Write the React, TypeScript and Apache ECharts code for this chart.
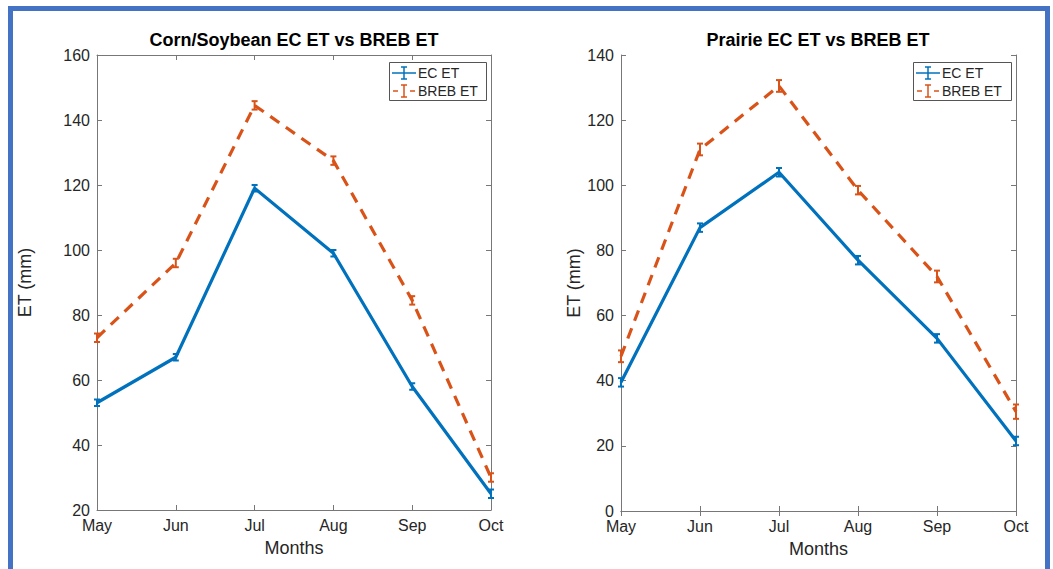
import React, { useEffect, useRef } from "react";
import * as echarts from "echarts";

const months = ["May", "Jun", "Jul", "Aug", "Sep", "Oct"];

const cornEC = [53, 67, 119, 99, 58, 25];
const cornECErr = [1.0, 1.0, 1.0, 1.0, 1.0, 1.3];
const cornBREB = [73, 96, 144.5, 127.5, 84.5, 30];
const cornBREBErr = [1.3, 1.3, 1.3, 1.3, 1.3, 1.3];

const prairieEC = [39.5, 87, 104, 77, 53, 21.5];
const prairieECErr = [1.3, 1.3, 1.3, 1.3, 1.3, 1.3];
const prairieBREB = [47.5, 111, 130.5, 98.5, 72, 30.5];
const prairieBREBErr = [1.8, 1.8, 1.8, 1.3, 1.8, 2.2];

const leftTicks = { min: 20, max: 160, interval: 20 };
const rightTicks = { min: 0, max: 140, interval: 20 };

const titles = ["Corn/Soybean EC ET vs BREB ET", "Prairie EC ET vs BREB ET"];
const legendNames = ["EC ET", "BREB ET"];

const BLUE = "#0072BD";
const ORANGE = "#D95319";
const AXIS = "#262626";
const FONT = "'Liberation Sans', Arial, Helvetica, sans-serif";

function errRender(color: string) {
  return (params: any, api: any) => {
    const x = api.value(0);
    const y = api.value(1);
    const e = api.value(2);
    const top = api.coord([x, y + e]);
    const bot = api.coord([x, y - e]);
    const cw = 3;
    const st = { stroke: color, lineWidth: 2 };
    return {
      type: "group",
      children: [
        { type: "line", shape: { x1: top[0], y1: top[1], x2: bot[0], y2: bot[1] }, style: st },
        { type: "line", shape: { x1: top[0] - cw, y1: top[1], x2: top[0] + cw, y2: top[1] }, style: st },
        { type: "line", shape: { x1: bot[0] - cw, y1: bot[1], x2: bot[0] + cw, y2: bot[1] }, style: st },
      ],
    };
  };
}

export default function App() {
  const ref = useRef<HTMLDivElement>(null);
  useEffect(() => {
    if (!ref.current) return;
    const chart = echarts.init(ref.current, undefined, { renderer: "svg" });
    const grids = [
      { left: 97, right: 562, top: 55, bottom: 59 },
      { left: 621, right: 37, top: 55, bottom: 58 },
    ];
    const ticks = [leftTicks, rightTicks];
    const yNameGaps = [63, 37];
    const xAxes: any[] = [];
    const yAxes: any[] = [];
    [0, 1].forEach((g) => {
      xAxes.push({
        type: "category",
        data: months,
        gridIndex: g,
        boundaryGap: false,
        position: "bottom",
        name: "Months",
        nameLocation: "middle",
        nameGap: 29,
        nameTextStyle: { fontSize: 18, color: AXIS, fontFamily: FONT },
        axisLine: { lineStyle: { color: "#777", width: 1 } },
        axisTick: { inside: true, length: 5, lineStyle: { color: "#777" } },
        axisLabel: { fontSize: 16, color: AXIS, fontFamily: FONT, margin: 7 },
        splitLine: { show: false },
      });
      xAxes.push({
        type: "category",
        data: months,
        gridIndex: g,
        boundaryGap: false,
        position: "top",
        axisLine: { lineStyle: { color: "#777", width: 1 } },
        axisTick: { inside: true, length: 5, lineStyle: { color: "#777" } },
        axisLabel: { show: false },
        splitLine: { show: false },
      });
      yAxes.push({
        type: "value",
        gridIndex: g,
        min: ticks[g].min,
        max: ticks[g].max,
        interval: ticks[g].interval,
        position: "left",
        name: "ET (mm)",
        nameLocation: "middle",
        nameGap: yNameGaps[g],
        nameTextStyle: { fontSize: 18, color: AXIS, fontFamily: FONT },
        axisLine: { show: true, lineStyle: { color: "#777", width: 1 } },
        axisTick: { show: true, inside: true, length: 5, lineStyle: { color: "#777" } },
        axisLabel: { fontSize: 16, color: AXIS, fontFamily: FONT, margin: 7 },
        splitLine: { show: false },
      });
      yAxes.push({
        type: "value",
        gridIndex: g,
        min: ticks[g].min,
        max: ticks[g].max,
        interval: ticks[g].interval,
        position: "right",
        axisLine: { show: true, lineStyle: { color: "#777", width: 1 } },
        axisTick: { show: true, inside: true, length: 5, lineStyle: { color: "#777" } },
        axisLabel: { show: false },
        splitLine: { show: false },
      });
    });

    const sets = [
      { ec: cornEC, ecErr: cornECErr, breb: cornBREB, brebErr: cornBREBErr },
      { ec: prairieEC, ecErr: prairieECErr, breb: prairieBREB, brebErr: prairieBREBErr },
    ];
    const series: any[] = [];
    sets.forEach((s, g) => {
      const xi = g * 2;
      const yi = g * 2;
      series.push({
        type: "line",
        name: legendNames[1],
        xAxisIndex: xi,
        yAxisIndex: yi,
        data: s.breb,
        symbol: "none",
        lineStyle: { color: ORANGE, width: 3.2, type: [11, 8] },
        z: 2,
      });
      series.push({
        type: "custom",
        xAxisIndex: xi,
        yAxisIndex: yi,
        data: s.breb.map((v, i) => [i, v, s.brebErr[i]]),
        encode: { x: 0, y: 1 },
        renderItem: errRender(ORANGE),
        z: 3,
      });
      series.push({
        type: "line",
        name: legendNames[0],
        xAxisIndex: xi,
        yAxisIndex: yi,
        data: s.ec,
        symbol: "none",
        lineStyle: { color: BLUE, width: 3.2 },
        z: 4,
      });
      series.push({
        type: "custom",
        xAxisIndex: xi,
        yAxisIndex: yi,
        data: s.ec.map((v, i) => [i, v, s.ecErr[i]]),
        encode: { x: 0, y: 1 },
        renderItem: errRender(BLUE),
        z: 5,
      });
    });

    const legendGraphic = (x0: number, x1: number) => {
      const y0 = 62;
      const items: any[] = [
        {
          type: "rect",
          shape: { x: x0 + 0.5, y: y0 + 0.5, width: x1 - x0, height: 38 },
          style: { fill: "#fff", stroke: "#555", lineWidth: 1 },
          z: 100,
        },
      ];
      legendNames.forEach((n, i) => {
        const yy = y0 + 11 + i * 18;
        const color = i === 0 ? BLUE : ORANGE;
        const lx0 = x0 + 3;
        const lx1 = x0 + 27;
        const cx = (lx0 + lx1) / 2;
        if (i === 0) {
          items.push({ type: "line", shape: { x1: lx0, y1: yy, x2: lx1, y2: yy }, style: { stroke: color, lineWidth: 1.5 }, z: 101 });
        } else {
          items.push({ type: "line", shape: { x1: lx0 + 1, y1: yy, x2: lx0 + 6, y2: yy }, style: { stroke: color, lineWidth: 1.5 }, z: 101 });
          items.push({ type: "line", shape: { x1: lx1 - 6, y1: yy, x2: lx1 - 1, y2: yy }, style: { stroke: color, lineWidth: 1.5 }, z: 101 });
        }
        items.push({ type: "line", shape: { x1: cx, y1: yy - 6, x2: cx, y2: yy + 6 }, style: { stroke: color, lineWidth: 1.5 }, z: 101 });
        items.push({ type: "line", shape: { x1: cx - 3, y1: yy - 6, x2: cx + 3, y2: yy - 6 }, style: { stroke: color, lineWidth: 1.5 }, z: 101 });
        items.push({ type: "line", shape: { x1: cx - 3, y1: yy + 6, x2: cx + 3, y2: yy + 6 }, style: { stroke: color, lineWidth: 1.5 }, z: 101 });
        items.push({
          type: "text",
          x: lx1 + 2,
          y: yy,
          style: { text: n, fontSize: 14, fill: AXIS, fontFamily: FONT, verticalAlign: "middle", align: "left" },
          z: 101,
        });
      });
      return items;
    };

    chart.setOption({
      animation: false,
      backgroundColor: "#fff",
      grid: grids,
      xAxis: xAxes,
      yAxis: yAxes,
      series,
      graphic: [
        {
          type: "rect",
          shape: { x: 10.5, y: 8.5, width: 1037, height: 620 },
          style: { fill: "none", stroke: "#4472C4", lineWidth: 5 },
          z: 200,
        },
        {
          type: "text",
          x: 294,
          y: 40,
          style: { text: titles[0], fontSize: 18, fontWeight: "bold", fill: "#000", fontFamily: FONT, align: "center", verticalAlign: "middle" },
        },
        {
          type: "text",
          x: 818,
          y: 40,
          style: { text: titles[1], fontSize: 18, fontWeight: "bold", fill: "#000", fontFamily: FONT, align: "center", verticalAlign: "middle" },
        },
        ...legendGraphic(389, 486),
        ...legendGraphic(913, 1011),
      ],
    });
    return () => chart.dispose();
  }, []);
  return <div ref={ref} style={{ position: "absolute", left: 0, top: 0, width: 1053, height: 569 }} />;
}
